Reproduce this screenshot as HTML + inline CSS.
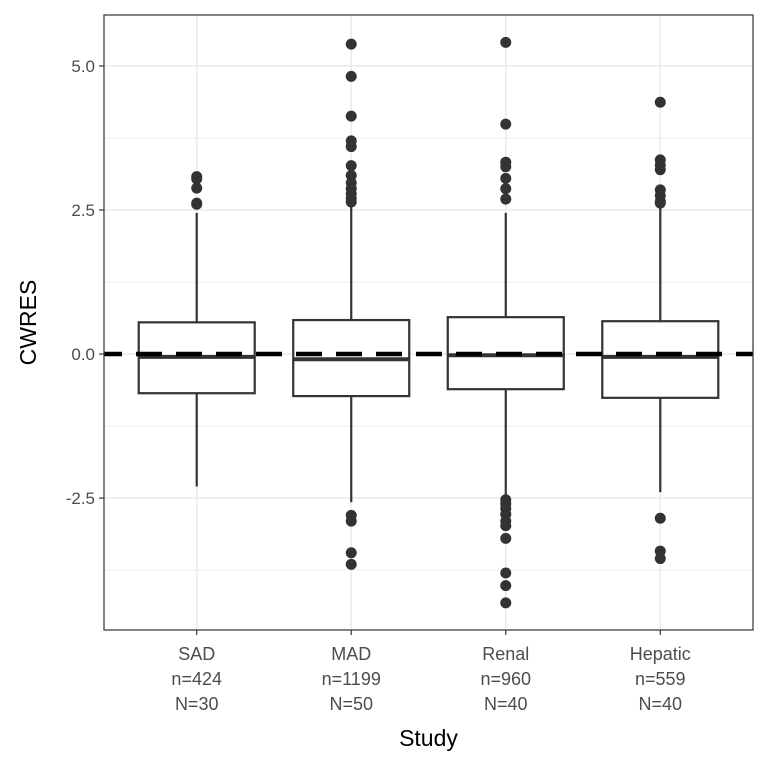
<!DOCTYPE html>
<html><head><meta charset="utf-8"><style>
body{margin:0;background:#fff}
svg text{font-family:"Liberation Sans","DejaVu Sans",sans-serif}
</style></head><body>
<svg id="chart" width="768" height="768" xmlns="http://www.w3.org/2000/svg"></svg>
<script>
const categories=["SAD","MAD","Renal","Hepatic"];
const nObs=["n=424","n=1199","n=960","n=559"];
const nSubj=["N=30","N=50","N=40","N=40"];
const q1=[-0.68,-0.73,-0.61,-0.76];
const q3=[0.55,0.59,0.64,0.57];
const medians=[-0.05,-0.09,-0.02,-0.05];
const whiskLo=[-2.3,-2.57,-2.45,-2.4];
const whiskHi=[2.45,2.58,2.45,2.55];
const outliers=[
 [3.08,3.04,2.88,2.62,2.6],
 [5.38,4.82,4.13,3.7,3.6,3.27,3.1,2.97,2.87,2.78,2.7,2.64,-2.8,-2.9,-3.45,-3.65],
 [5.41,3.99,3.33,3.25,3.05,2.87,2.69,-2.53,-2.6,-2.68,-2.78,-2.9,-2.98,-3.2,-3.8,-4.02,-4.32],
 [4.37,3.37,3.28,3.2,2.85,2.75,2.65,2.62,-2.85,-3.42,-3.55]
];
const majorTicks=[5,2.5,0,-2.5];
const tickLabels=["5.0","2.5","0.0","-2.5"];
const minorTicks=[3.75,1.25,-1.25,-3.75];
const refLine=[0];

const L=104,R=753,T=15,B=630;
const yMin=-4.79,yMax=5.885;
const y=v=>T+(yMax-v)/(yMax-yMin)*(B-T);
const step=(R-L)/(categories.length-1+1.2);
const x=i=>L+step*(i+0.6);
const svg=document.getElementById('chart');
const NS="http://www.w3.org/2000/svg";
function mk(tag,attrs,parent){const e=document.createElementNS(NS,tag);for(const k in attrs)e.setAttribute(k,attrs[k]);(parent||svg).appendChild(e);return e;}

minorTicks.forEach(v=>{const l=mk('line',{x1:L,x2:R,y1:y(v),y2:y(v),stroke:'#ebebeb','stroke-width':0.8});

});
majorTicks.forEach((v,i)=>{const l=mk('line',{x1:L,x2:R,y1:y(v),y2:y(v),stroke:'#ebebeb','stroke-width':1.6});


const tk=mk('line',{x1:L-5,x2:L,y1:y(v),y2:y(v),stroke:'#333','stroke-width':1.2});


const t=mk('text',{x:L-9,y:y(v)+6,'text-anchor':'end','font-size':17,fill:'#4d4d4d'});t.textContent=tickLabels[i];

});
categories.forEach((c,i)=>{const l=mk('line',{x1:x(i),x2:x(i),y1:T,y2:B,stroke:'#ebebeb','stroke-width':1.6});

});

categories.forEach((c,i)=>{
 const g=mk('g',{});
 
 
 const cx=x(i),hw=58;
 mk('line',{x1:cx,x2:cx,y1:y(whiskHi[i]),y2:y(q3[i]),stroke:'#333','stroke-width':2.2},g);
 mk('line',{x1:cx,x2:cx,y1:y(q1[i]),y2:y(whiskLo[i]),stroke:'#333','stroke-width':2.2},g);
 mk('rect',{x:cx-hw,y:y(q3[i]),width:hw*2,height:y(q1[i])-y(q3[i]),fill:'#fff',stroke:'#333','stroke-width':2.2},g);
 mk('line',{x1:cx-hw,x2:cx+hw,y1:y(medians[i]),y2:y(medians[i]),stroke:'#333','stroke-width':4},g);
 outliers[i].forEach(v=>{const p=mk('circle',{cx:cx,cy:y(v),r:5.5,fill:'#333'},g);
  
  });
 const tk=mk('line',{x1:cx,x2:cx,y1:B,y2:B+5,stroke:'#333','stroke-width':1.2});
 
 
 [c,nObs[i],nSubj[i]].forEach((s,j)=>{const t=mk('text',{x:cx,y:660+j*25,'text-anchor':'middle','font-size':18,fill:'#4d4d4d'});t.textContent=s;
  
  });
});
refLine.forEach(v=>{const l=mk('line',{x1:L,x2:R,y1:y(v),y2:y(v),stroke:'#000','stroke-width':4.5,'stroke-dasharray':'26 14','stroke-dashoffset':8});

});
const fr=mk('rect',{x:L,y:T,width:R-L,height:B-T,fill:'none',stroke:'#333','stroke-width':1.2});


const xt=mk('text',{x:(L+R)/2,y:746,'text-anchor':'middle','font-size':23,fill:'#000'});xt.textContent='Study';


const yt=mk('text',{x:0,y:0,'text-anchor':'middle','font-size':23,fill:'#000',transform:`translate(36,${(T+B)/2}) rotate(-90)`});yt.textContent='CWRES';


</script>
</body></html>
